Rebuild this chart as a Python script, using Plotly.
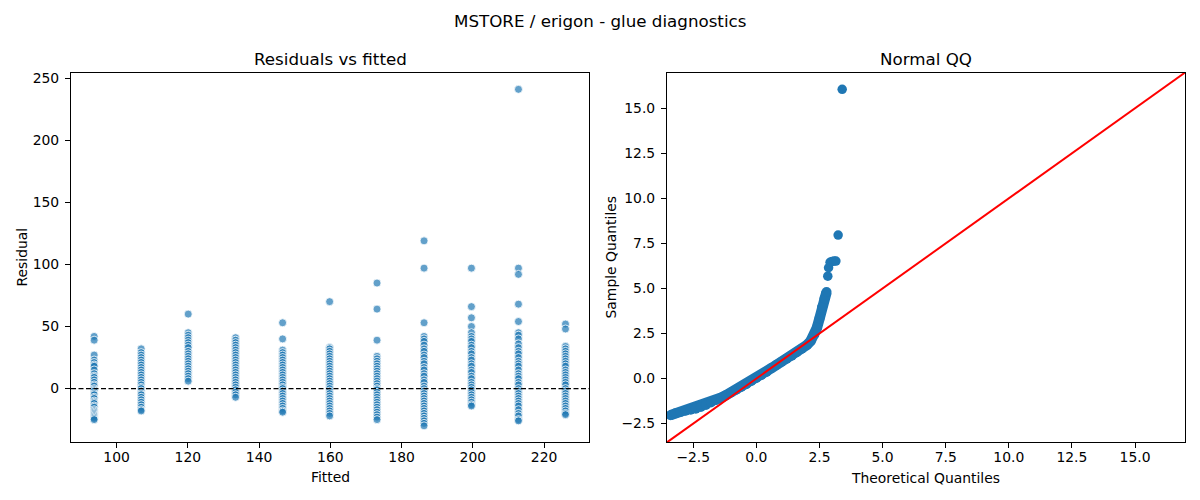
import plotly.graph_objects as go
from plotly.subplots import make_subplots

# fitted level of each column in the residual plot
fitted_levels = [93.7, 106.9, 120.1, 133.4, 146.6, 159.8, 173.1, 186.3, 199.6, 212.8, 226.0]

# residuals read per fitted level
resid_93 = [42, 39, 27, 23, 21, 19, 18, 15, 12, 10, 9, 7, 5, 3, 2, 0, -1, -2, -4, -5, -7, -8,
            -10, -11, -12, -14, -15, -17, -18, -19, -20, -21, -22, -23, -24, -25]
resid_107 = [32, 29, 27, 25, 23, 21, 19, 17, 15, 13, 11, 9, 7, 5, 3, 1, 0, -2, -4, -5, -7, -9,
             -11, -13, -15, -17, -18]
resid_120 = [60, 45, 43, 41, 39, 37, 35, 33, 30, 28, 26, 24, 22, 20, 18, 16, 14, 12, 10, 8, 6]
resid_133 = [41, 39, 37, 35, 33, 31, 29, 27, 25, 23, 21, 19, 17, 15, 13, 11, 9, 7, 5, 3, 1, -1,
             -3, -5, -7]
resid_147 = [53, 40, 31, 29, 27, 25, 23, 21, 19, 17, 15, 13, 11, 9, 7, 5, 3, 1, 0, -2, -4, -6,
             -8, -10, -12, -14, -16, -18, -19]
resid_160 = [70, 33, 32, 30, 28, 26, 24, 22, 20, 18, 16, 14, 12, 10, 8, 6, 4, 2, 0, -2, -4, -6,
             -8, -10, -12, -14, -16, -18, -20, -22]
resid_173 = [85, 64, 39, 26, 24, 22, 20, 18, 16, 14, 12, 10, 8, 6, 4, 2, 0, -1, -3, -5, -7, -9,
             -11, -13, -15, -17, -19, -21, -23, -25]
resid_186 = [119, 97, 53, 42, 40, 38, 35, 32, 30, 27, 25, 22, 20, 17, 15, 12, 10, 7, 5, 2, 0,
             -2, -4, -6, -8, -10, -12, -14, -16, -18, -20, -22, -24, -26, -28, -30]
resid_200 = [97, 66, 57, 50, 45, 42, 40, 38, 35, 33, 30, 28, 25, 23, 20, 18, 15, 13, 10, 8, 5,
             3, 1, -1, -3, -5, -7, -9, -11, -13, -14]
resid_213 = [241, 97, 92, 68, 54, 45, 43, 40, 36, 33, 30, 28, 25, 22, 20, 18, 15, 12, 10, 8, 5,
             3, 0, -2, -4, -6, -8, -10, -12, -14, -17, -20, -22, -25, -26]
resid_226 = [52, 48, 34, 32, 30, 28, 26, 24, 22, 20, 18, 15, 13, 11, 9, 7, 5, 3, 0, -2, -4, -6,
             -8, -10, -12, -14, -16, -18, -20, -21]

residual_groups = [resid_93, resid_107, resid_120, resid_133, resid_147, resid_160,
                   resid_173, resid_186, resid_200, resid_213, resid_226]

# QQ plot: dense body of the curve and the separated upper tail
qq_body_theoretical = [-3.40, -3.2, -3.0, -2.8, -2.6, -2.4, -2.2, -2.0, -1.8, -1.6, -1.4, -1.2,
                       -1.0, -0.8, -0.6, -0.4, -0.2, 0.0, 0.2, 0.4, 0.6, 0.8, 1.0, 1.2, 1.4,
                       1.6, 1.8, 2.0, 2.15, 2.3, 2.4, 2.5, 2.6, 2.7, 2.78]
qq_body_sample = [-2.03, -1.93, -1.85, -1.78, -1.73, -1.67, -1.58, -1.47, -1.33, -1.19, -1.06,
                  -0.92, -0.77, -0.62, -0.47, -0.31, -0.14, 0.03, 0.2, 0.37, 0.58, 0.76,
                  0.93, 1.1, 1.27, 1.46, 1.65, 1.86, 2.08, 2.45, 2.82, 3.33, 3.95, 4.45, 4.80]
qq_tail_theoretical = [2.83, 2.86, 2.92, 3.0, 3.08, 3.15, 3.24, 3.40]
qq_tail_sample = [5.68, 6.15, 6.45, 6.5, 6.52, 6.52, 7.96, 16.05]

qq_range = [-3.54, 16.98]
qq_ticks = [-2.5, 0, 2.5, 5, 7.5, 10, 12.5, 15]
qq_ticktext = ["−2.5", "0.0", "2.5", "5.0", "7.5", "10.0", "12.5", "15.0"]

FONT = "DejaVu Sans"
BLUE = "#1f77b4"

fig = make_subplots(rows=1, cols=2)

fit_x = []
res_y = []
for level, group in zip(fitted_levels, residual_groups):
    fit_x += [level] * len(group)
    res_y += group

fig.add_trace(go.Scatter(
    x=fit_x, y=res_y, mode="markers",
    marker=dict(size=8, color="rgba(31,119,180,0.7)",
                line=dict(color="white", width=0.8)),
    hoverinfo="x+y", showlegend=False), row=1, col=1)

# zero reference line
fig.add_shape(type="line", xref="x domain", yref="y", x0=0, x1=1, y0=0, y1=0,
              line=dict(color="black", width=1.2, dash="5px,2.5px"))

fig.add_trace(go.Scatter(
    x=qq_body_theoretical, y=qq_body_sample, mode="lines+markers",
    line=dict(color=BLUE, width=10.5), marker=dict(size=10, color=BLUE),
    showlegend=False), row=1, col=2)
fig.add_trace(go.Scatter(
    x=qq_tail_theoretical, y=qq_tail_sample, mode="markers",
    marker=dict(size=9.5, color=BLUE), showlegend=False), row=1, col=2)
fig.add_trace(go.Scatter(
    x=qq_range, y=qq_range, mode="lines",
    line=dict(color="red", width=2), showlegend=False), row=1, col=2)

axis_common = dict(
    showline=True, mirror=True, linecolor="black", linewidth=1.1,
    showgrid=False, zeroline=False, ticks="outside", ticklen=5, tickwidth=1.1,
    tickcolor="black", tickfont=dict(family=FONT, size=13.9, color="black"),
)

fig.update_xaxes(axis_common, ticklabelstandoff=-3)
fig.update_yaxes(axis_common, ticklabelstandoff=3)

fig.update_layout(
    xaxis=dict(domain=[71 / 1200, 589 / 1200], range=[87.2, 232.6],
               tickvals=[100, 120, 140, 160, 180, 200, 220]),
    yaxis=dict(domain=[58 / 500, 430 / 500], range=[-43.3, 254.5],
               tickvals=[0, 50, 100, 150, 200, 250]),
    xaxis2=dict(domain=[667 / 1200, 1185 / 1200], range=qq_range,
                tickvals=qq_ticks, ticktext=qq_ticktext),
    yaxis2=dict(domain=[58 / 500, 430 / 500], range=qq_range,
                tickvals=qq_ticks, ticktext=qq_ticktext),
    width=1200, height=500,
    margin=dict(l=0, r=0, t=0, b=0),
    plot_bgcolor="white", paper_bgcolor="white",
    font=dict(family=FONT, color="black"),
)

labels = [
    ("MSTORE / erigon - glue diagnostics", 600, 18, 16.7, 0),
    ("Residuals vs fitted", 330, 56, 16.7, 0),
    ("Normal QQ", 926, 56, 16.7, 0),
    ("Fitted", 330, 477, 13.9, 0),
    ("Theoretical Quantiles", 926, 478, 13.9, 0),
    ("Residual", 22, 256, 13.9, -90),
    ("Sample Quantiles", 611, 256, 13.9, -90),
]
for text, px, py, size, angle in labels:
    fig.add_annotation(text=text, xref="paper", yref="paper",
                       x=px / 1200, y=1 - py / 500, xanchor="center", yanchor="middle",
                       showarrow=False, textangle=angle,
                       font=dict(family=FONT, size=size, color="black"))

# drop the default page margin so the figure sits at the window's corner
fig.write_html("out.html", config={"displayModeBar": False},
               post_script="document.body.style.margin='0';")
